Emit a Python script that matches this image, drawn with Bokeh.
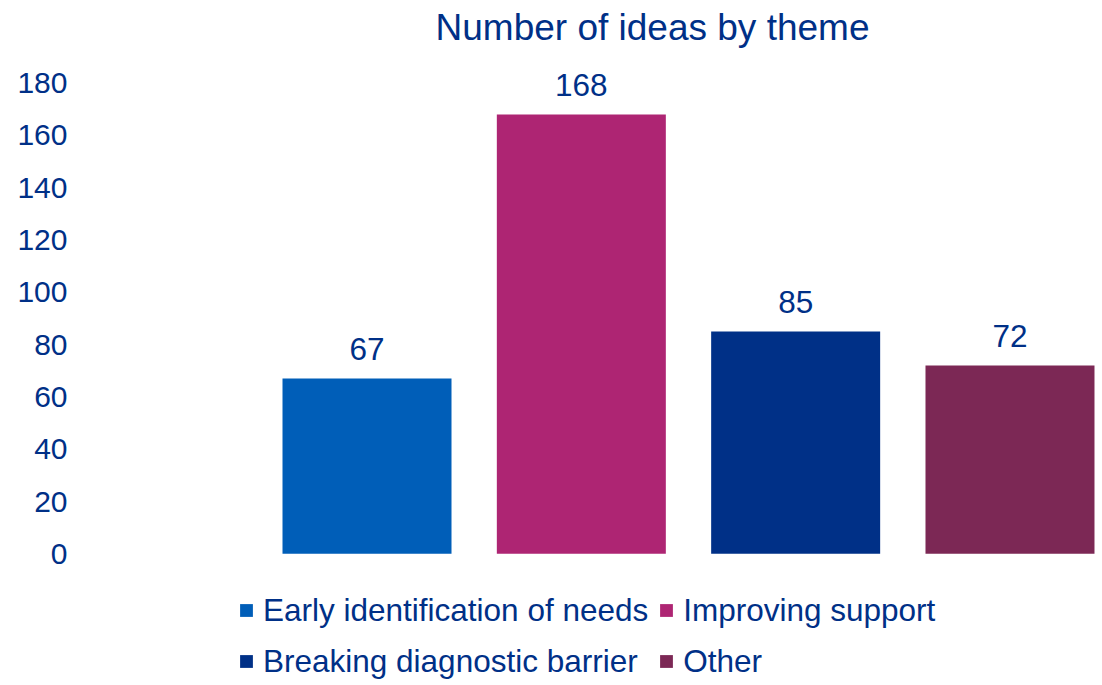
from bokeh.plotting import figure
from bokeh.models import ColumnDataSource, Range1d, FixedTicker, Legend, LegendItem, Label, LabelSet
from bokeh.core.properties import value
from bokeh.embed import file_html
from bokeh.resources import INLINE

# ---- data ----
categories = ["Early identification of needs", "Improving support",
              "Breaking diagnostic barrier", "Other"]
counts = [67, 168, 85, 72]
colors = ["#005EB8", "#AE2573", "#003087", "#7C2855"]
y_ticks = [0, 20, 40, 60, 80, 100, 120, 140, 160, 180]
title_text = "Number of ideas by theme"

# ---- layout constants (pixels) ----
W, H = 1102, 685
FRAME_LEFT = 80
ZERO_PX = 553.3          # canvas y of value 0
PX_PER_UNIT = 2.615      # vertical scale
FIRST_CENTER_PX = 366.5  # canvas x of first bar centre
CAT_PX = 214.33          # category spacing in px
TEXT = "#003087"
FONT = "Liberation Sans"

x_start = -(FIRST_CENTER_PX - FRAME_LEFT) / CAT_PX
x_end = x_start + (W - FRAME_LEFT) / CAT_PX
y_start = -(H - ZERO_PX) / PX_PER_UNIT
y_end = ZERO_PX / PX_PER_UNIT

idx = list(range(len(categories)))
src = ColumnDataSource(dict(x=idx, top=counts, color=colors, cat=categories,
                            lab=[str(c) for c in counts]))

p = figure(width=W, height=H, output_backend="svg", toolbar_location=None,
           x_range=Range1d(x_start, x_end), y_range=Range1d(y_start, y_end),
           min_border_left=FRAME_LEFT, min_border_right=0, min_border_top=0,
           min_border_bottom=0)
p.outline_line_color = None
p.xgrid.visible = False
p.ygrid.visible = False
p.xaxis.visible = False
p.background_fill_color = "white"
p.border_fill_color = "white"

ya = p.yaxis[0]
ya.ticker = FixedTicker(ticks=y_ticks)
ya.axis_line_color = None
ya.major_tick_line_color = None
ya.minor_tick_line_color = None
ya.major_tick_in = 0
ya.major_tick_out = 0
ya.major_label_standoff = 13
ya.major_label_text_font = FONT
ya.major_label_text_font_size = "30px"
ya.major_label_text_color = TEXT

bars = p.vbar(x="x", top="top", bottom=0, width=169 / CAT_PX, color="color",
              line_color=None, source=src)

labels = LabelSet(x="x", y="top", text="lab", source=src, text_align="center",
                  text_baseline="alphabetic", y_offset=18.5, text_font=value(FONT),
                  text_font_size=value("31.5px"), text_color=value(TEXT))
p.add_layout(labels)

title = Label(x=(652 - FIRST_CENTER_PX) / CAT_PX, y=(ZERO_PX - 27) / PX_PER_UNIT,
              text=title_text, text_align="center", text_baseline="middle",
              text_font=FONT, text_font_size="37px", text_color=TEXT)
p.add_layout(title)

items = [LegendItem(label=c, renderers=[bars], index=i) for i, c in enumerate(categories)]
legend = Legend(items=items, location=(158, 3.5), orientation="horizontal", ncols=2,
                glyph_width=16, glyph_height=16, label_height=41, label_standoff=9,
                spacing=10, padding=0, margin=0, border_line_color=None,
                background_fill_alpha=0, label_text_font=FONT,
                label_text_font_size="31.5px", label_text_color=TEXT)
legend.spacing = 10
p.add_layout(legend, "center")

open("out.html", "w").write(file_html(p, INLINE))
